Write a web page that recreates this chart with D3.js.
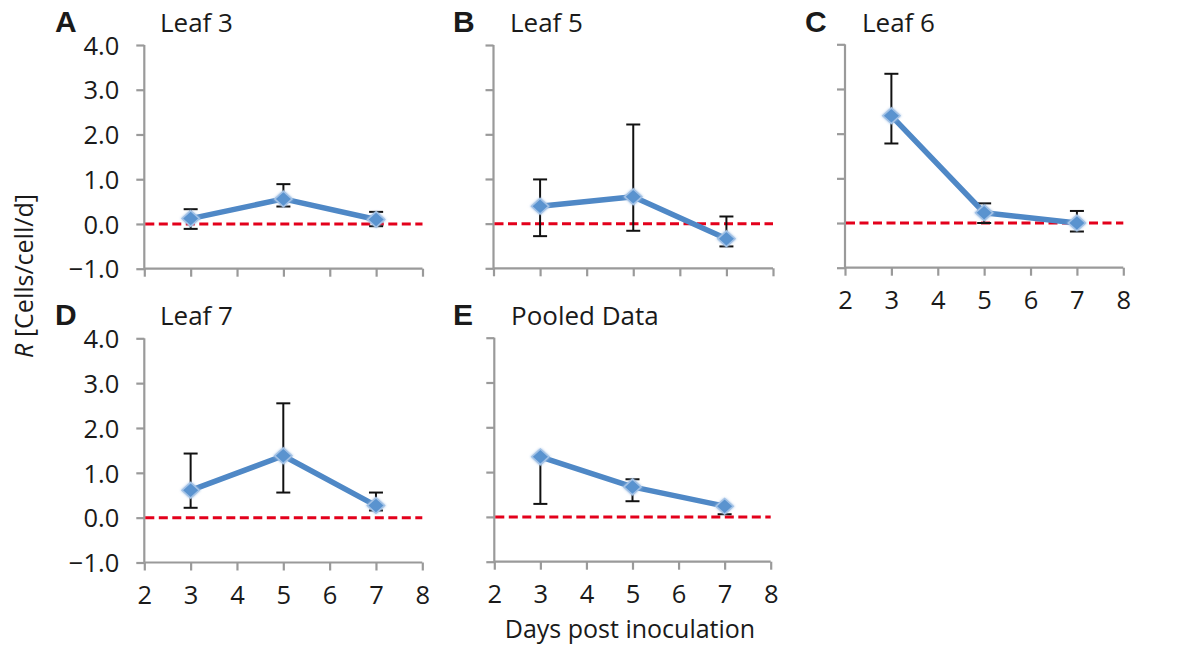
<!DOCTYPE html>
<html>
<head>
<meta charset="utf-8">
<script src="https://cdn.jsdelivr.net/npm/d3@7"></script>
<style>
  html, body { margin: 0; padding: 0; background: #fff; }
  svg { display: block; }
  text { font-family: "Open Sans", Lato, sans-serif; fill: #1a1a1a; }
  .letter { font-family: "Liberation Sans", Arial, sans-serif; font-weight: bold; }
</style>
</head>
<body>
<svg id="chart" width="1192" height="651"></svg>
<script>
// ---------- data ----------
const days = [3, 5, 7];
const xTicks = [2, 3, 4, 5, 6, 7, 8];
const yTicks = [-1, 0, 1, 2, 3, 4];
const panelLetters = ["A", "B", "C", "D", "E"];
const panelTitles = ["Leaf 3", "Leaf 5", "Leaf 6", "Leaf 7", "Pooled Data"];

const leaf3Mean  = [0.12, 0.56, 0.10];
const leaf3Upper = [0.33, 0.89, 0.27];
const leaf3Lower = [-0.11, 0.39, -0.05];

const leaf5Mean  = [0.39, 0.60, -0.34];
const leaf5Upper = [0.99, 2.22, 0.16];
const leaf5Lower = [-0.28, -0.16, -0.51];

const leaf6Mean  = [2.40, 0.23, 0.00];
const leaf6Upper = [3.34, 0.44, 0.27];
const leaf6Lower = [1.78, 0.00, -0.19];

const leaf7Mean  = [0.61, 1.38, 0.27];
const leaf7Upper = [1.43, 2.55, 0.56];
const leaf7Lower = [0.22, 0.56, 0.16];

const pooledMean  = [1.34, 0.67, 0.24];
const pooledUpper = [1.34, 0.84, 0.24];
const pooledLower = [0.29, 0.35, 0.06];

const seriesMeans  = [leaf3Mean, leaf5Mean, leaf6Mean, leaf7Mean, pooledMean];
const seriesUppers = [leaf3Upper, leaf5Upper, leaf6Upper, leaf7Upper, pooledUpper];
const seriesLowers = [leaf3Lower, leaf5Lower, leaf6Lower, leaf7Lower, pooledLower];

// ---------- layout ----------
const layout = [
  { x0: 144.3, x1: 422.5, yTop: 45.0, yBot: 268.7, yLabels: true,  xLabels: false, lx: 55,  tx: 160, ty: 32 },
  { x0: 493.5, x1: 773.0, yTop: 45.0, yBot: 268.3, yLabels: false, xLabels: false, lx: 453, tx: 510, ty: 32 },
  { x0: 845.0, x1: 1123.3, yTop: 44.3, yBot: 267.7, yLabels: false, xLabels: true, lx: 805, tx: 862, ty: 32 },
  { x0: 144.3, x1: 422.3, yTop: 338.3, yBot: 562.5, yLabels: true,  xLabels: true, lx: 55,  tx: 160, ty: 325 },
  { x0: 494.3, x1: 770.7, yTop: 337.7, yBot: 561.7, yLabels: false, xLabels: true, lx: 453, tx: 511, ty: 325 }
];

const axisColor = "#9a9a9a";
const lineColor = "#4f88c6";
const svg = d3.select("#chart");

const defs = svg.append("defs");
const glow = defs.append("filter").attr("id", "glow")
  .attr("x", "-50%").attr("y", "-50%").attr("width", "200%").attr("height", "200%");
glow.append("feGaussianBlur").attr("in", "SourceGraphic").attr("stdDeviation", 1.3).attr("result", "b");
const merge = glow.append("feMerge");
merge.append("feMergeNode").attr("in", "b");
merge.append("feMergeNode").attr("in", "SourceGraphic");

layout.forEach((L, i) => {
  const x = d3.scaleLinear().domain([2, 8]).range([L.x0, L.x1]);
  const y = d3.scaleLinear().domain([-1, 4]).range([L.yBot, L.yTop]);
  const g = svg.append("g");

  const yAxis = d3.axisLeft(y).tickValues(yTicks).tickSize(8)
    .tickFormat(L.yLabels ? d3.format(".1f") : () => "");
  const ya = g.append("g").attr("transform", `translate(${L.x0},0)`).call(yAxis);
  const xAxis = d3.axisBottom(x).tickValues(xTicks).tickSize(8)
    .tickFormat(L.xLabels ? d3.format("d") : () => "");
  const xa = g.append("g").attr("transform", `translate(0,${L.yBot})`).call(xAxis);

  [ya, xa].forEach(a => {
    a.attr("font-size", null).attr("font-family", null);
    a.select(".domain").attr("stroke", axisColor).attr("stroke-width", 2.2);
    a.selectAll(".tick line").attr("stroke", axisColor).attr("stroke-width", 2.2);
    a.selectAll(".tick text").style("font-size", "25.5px").attr("fill", "#1a1a1a");
  });
  ya.select(".domain").attr("d", `M0,${L.yTop}V${L.yBot}`);
  xa.select(".domain").attr("d", `M${L.x0},0H${L.x1}`);
  ya.selectAll(".tick text").attr("x", -25).attr("dy", "0.36em");
  xa.selectAll(".tick text").attr("y", 23).attr("dy", "0.71em");

  g.append("line")
    .attr("x1", x(2) + 1).attr("x2", x(8))
    .attr("y1", y(0)).attr("y2", y(0))
    .attr("stroke", "#e3001b").attr("stroke-width", 3)
    .attr("stroke-dasharray", "9,4.5");

  const mean = seriesMeans[i], up = seriesUppers[i], lo = seriesLowers[i];
  const pts = days.map((d, k) => ({ d, m: mean[k], u: up[k], l: lo[k] }));

  const eb = g.append("g").attr("stroke", "#111").attr("stroke-width", 2);
  pts.forEach(p => {
    eb.append("line").attr("x1", x(p.d)).attr("x2", x(p.d)).attr("y1", y(p.u)).attr("y2", y(p.l));
    eb.append("line").attr("x1", x(p.d) - 7).attr("x2", x(p.d) + 7).attr("y1", y(p.u)).attr("y2", y(p.u));
    eb.append("line").attr("x1", x(p.d) - 7).attr("x2", x(p.d) + 7).attr("y1", y(p.l)).attr("y2", y(p.l));
  });

  g.append("path").datum(pts)
    .attr("d", d3.line().x(p => x(p.d)).y(p => y(p.m)))
    .attr("fill", "none").attr("stroke", lineColor).attr("stroke-width", 5.5)
    .attr("stroke-linejoin", "round");

  const sym = d3.symbol().type(d3.symbolDiamond2).size(170);
  g.selectAll(".mk").data(pts).enter().append("path")
    .attr("d", sym)
    .attr("transform", p => `translate(${x(p.d)},${y(p.m)}) scale(1.05,0.95)`)
    .attr("fill", "#5a93cf").attr("stroke", "#a3c2e6").attr("stroke-width", 1.5)
    .attr("filter", "url(#glow)");

  svg.append("text").attr("class", "letter")
    .attr("x", L.lx).attr("y", L.ty)
    .style("font-size", "30px").text(panelLetters[i]);
  svg.append("text")
    .attr("x", L.tx).attr("y", L.ty)
    .style("font-size", "26px").text(panelTitles[i]);
});

const yl = svg.append("text")
  .attr("transform", "translate(33,276) rotate(-90)")
  .attr("text-anchor", "middle").style("font-size", "25px");
yl.append("tspan").attr("font-style", "italic").text("R");
yl.append("tspan").text(" [Cells/cell/d]");

svg.append("text").attr("x", 630).attr("y", 638)
  .attr("text-anchor", "middle").style("font-size", "25px")
  .text("Days post inoculation");
</script>
</body>
</html>
